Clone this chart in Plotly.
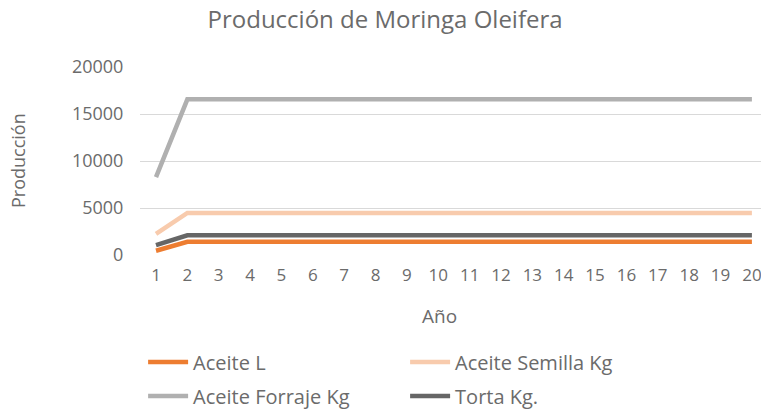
import plotly.graph_objects as go

# Data
anios = list(range(1, 21))
aceite_l = [450] + [1400] * 19
aceite_semilla = [2240] + [4480] * 19
aceite_forraje = [8280] + [16560] * 19
torta = [1050] + [2100] * 19
y_ticks = [0, 5000, 10000, 15000, 20000]

series = [
    ("Aceite L", aceite_l, "#ED7D31", "legend"),
    ("Aceite Semilla Kg", aceite_semilla, "#F8CBAD", "legend"),
    ("Aceite Forraje Kg", aceite_forraje, "#B0B0B0", "legend2"),
    ("Torta Kg.", torta, "#666666", "legend2"),
]

FONT = "'Open Sans', Lato, sans-serif"
TEXT = "#6b6b6b"

W, H = 761, 410

fig = go.Figure()
for name, vals, color, leg in series:
    fig.add_trace(go.Scatter(
        x=anios, y=vals, name=name, mode="lines",
        line=dict(color=color, width=4.5),
        cliponaxis=False, legend=leg,
    ))

legend_common = dict(orientation="h", xanchor="left", yanchor="middle",
                     entrywidth=207, entrywidthmode="pixels",
                     font=dict(size=20, color=TEXT), itemwidth=40,
                     bgcolor="rgba(0,0,0,0)")

fig.update_layout(
    width=W, height=H,
    margin=dict(l=140, r=0, t=67, b=155, autoexpand=False),
    paper_bgcolor="white", plot_bgcolor="white",
    font=dict(family=FONT, color=TEXT, size=17),
    title=dict(text="Producción de Moringa Oleifera", x=0.506, xanchor="center",
               y=0.951, yanchor="middle", font=dict(size=24, color=TEXT)),
    showlegend=True,
    legend=dict(x=0.005, y=-0.569, **legend_common),
    legend2=dict(x=0.005, y=-0.75, **legend_common),
    annotations=[
        dict(text="Año", xref="paper", yref="paper", x=0.483, y=-0.324,
             xanchor="center", yanchor="middle", showarrow=False,
             font=dict(size=19, color=TEXT)),
        dict(text="Producción", xref="paper", yref="paper", x=-0.1965, y=0.505,
             xanchor="center", yanchor="middle", showarrow=False, textangle=-90,
             font=dict(size=18, color=TEXT)),
    ],
)

fig.update_xaxes(
    range=[0.49, 20.29], tickmode="array", tickvals=anios,
    ticktext=[str(a) for a in anios],
    showgrid=False, zeroline=False, showline=False,
    ticks="outside", ticklen=5, tickcolor="rgba(0,0,0,0)",
    ticklabeloverflow="allow",
    tickfont=dict(size=17, color=TEXT),
)
fig.update_yaxes(
    range=[0, 20000], tickmode="array", tickvals=y_ticks,
    ticktext=[str(v) for v in y_ticks],
    showgrid=True, gridcolor="#d9d9d9", gridwidth=1.2, zeroline=False,
    ticks="outside", ticklen=12, tickcolor="rgba(0,0,0,0)",
    tickfont=dict(size=18, color=TEXT),
)

# drop the default 8px body margin so the figure fills the window exactly
fig.write_html("out.html",
               config={"displayModeBar": False},
               post_script="document.body.style.margin='0';"
                           "document.body.style.overflow='hidden';")
